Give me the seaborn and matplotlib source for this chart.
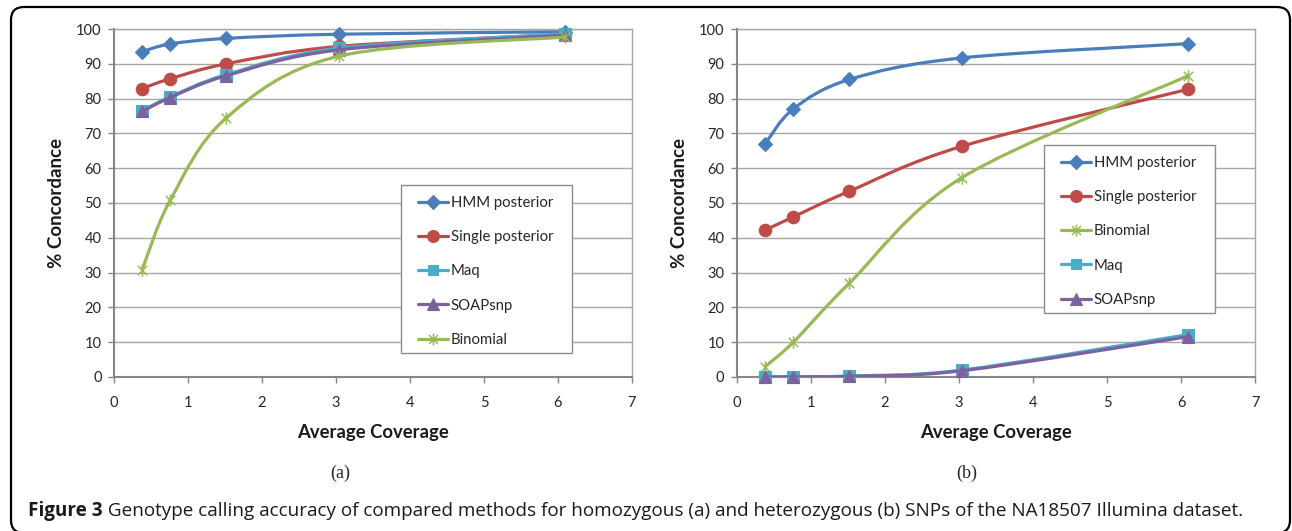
#!/usr/bin/env python3
"""Genotype calling accuracy (homozygous / heterozygous) as two smoothed line charts."""

import numpy as np
import pandas as pd
import matplotlib
matplotlib.use("Agg")
import matplotlib.pyplot as plt
import seaborn as sns
from matplotlib.path import Path
from matplotlib.patches import PathPatch, Rectangle, FancyBboxPatch
from matplotlib.lines import Line2D

# ---- data -----------------------------------------------------------------
coverage = [0.38, 0.76, 1.52, 3.04, 6.1]

# (a) homozygous SNPs
hom_hmm = [93.5, 95.7, 97.3, 98.5, 99.2]
hom_single = [82.9, 85.7, 90.0, 95.0, 98.5]
hom_maq = [76.5, 80.5, 86.9, 94.5, 98.6]
hom_soap = [76.3, 80.3, 86.6, 94.0, 98.2]
hom_binomial = [30.8, 50.8, 74.5, 92.2, 97.7]

# (b) heterozygous SNPs
het_hmm = [67.0, 77.0, 85.5, 91.7, 95.8]
het_single = [42.2, 46.0, 53.4, 66.3, 82.7]
het_binomial = [3.0, 10.0, 27.0, 57.3, 86.6]
het_maq = [0.1, 0.1, 0.3, 2.0, 12.2]
het_soap = [0.0, 0.0, 0.2, 1.8, 11.6]

order_a = ["HMM posterior", "Single posterior", "Maq", "SOAPsnp", "Binomial"]
order_b = ["HMM posterior", "Single posterior", "Binomial", "Maq", "SOAPsnp"]

x_ticks = list(range(0, 8))
y_ticks = list(range(0, 101, 10))

caption_bold = "Figure 3"
caption_rest = (" Genotype calling accuracy of compared methods for homozygous (a) and "
                "heterozygous (b) SNPs of the NA18507 Illumina dataset.")


def long_frame(series):
    rows = []
    for name, values in series.items():
        for x, y in zip(coverage, values):
            rows.append({"coverage": x, "concordance": y, "method": name})
    return pd.DataFrame(rows)


df_a = long_frame({"HMM posterior": hom_hmm, "Single posterior": hom_single,
                   "Maq": hom_maq, "SOAPsnp": hom_soap, "Binomial": hom_binomial})
df_b = long_frame({"HMM posterior": het_hmm, "Single posterior": het_single,
                   "Binomial": het_binomial, "Maq": het_maq, "SOAPsnp": het_soap})

# ---- styling ----------------------------------------------------------------
STAR = Path([(0, -1), (0, 1), (-0.75, -0.75), (0.75, 0.75), (-0.75, 0.75), (0.75, -0.75)],
            [Path.MOVETO, Path.LINETO, Path.MOVETO, Path.LINETO, Path.MOVETO, Path.LINETO])

style = {
    "HMM posterior": dict(color="#4a7ebb", marker="D", ms=7),
    "Single posterior": dict(color="#be4b48", marker="o", ms=9),
    "Maq": dict(color="#4bacc6", marker="s", ms=8),
    "SOAPsnp": dict(color="#7d60a0", marker="^", ms=9),
    "Binomial": dict(color="#98b954", marker=STAR, ms=9),
}

W_PX, H_PX = 1292, 531
sns.set_theme(style="white")
plt.rcParams["font.family"] = ["Lato", "DejaVu Sans"]

fig = plt.figure(figsize=(W_PX / 100, H_PX / 100), dpi=100)


def smooth_path(xs, ys):
    # Excel-style smoothed line: cubic Bezier segments through the points
    pts = np.column_stack([xs, ys]).astype(float)
    n = len(pts)
    verts = [pts[0]]
    codes = [Path.MOVETO]
    for i in range(n - 1):
        p_prev = pts[max(i - 1, 0)]
        p0, p1 = pts[i], pts[i + 1]
        p_next = pts[min(i + 2, n - 1)]
        verts += [p0 + (p1 - p_prev) / 6, p1 - (p_next - p0) / 6, p1]
        codes += [Path.CURVE4] * 3
    return Path(verts, codes)


def draw_panel(ax, df, order, legend_box, legend_anchor):
    for k, name in enumerate(order):
        sub = df[df["method"] == name]
        st = style[name]
        is_star = name == "Binomial"
        ax.add_patch(PathPatch(smooth_path(sub["coverage"], sub["concordance"]),
                               facecolor="none", edgecolor=st["color"], lw=2.3,
                               capstyle="round", joinstyle="round", zorder=3 + k))
        sns.lineplot(data=sub, x="coverage", y="concordance", ax=ax, color=st["color"],
                     marker=st["marker"], markersize=st["ms"], linestyle="",
                     markeredgecolor=st["color"], markeredgewidth=1.1 if is_star else 0.8,
                     markerfacecolor="none" if is_star else st["color"],
                     zorder=3.5 + k, clip_on=False)

    ax.set_xlim(0, 7)
    ax.set_ylim(0, 100)
    ax.set_xticks(x_ticks)
    ax.set_yticks(y_ticks)
    ax.yaxis.grid(True, color="#a6a6a6", lw=1.0)
    ax.xaxis.grid(False)
    ax.set_axisbelow(True)
    for side in ("left", "bottom"):
        ax.spines[side].set_color("#868686")
        ax.spines[side].set_linewidth(1.5)
    for side in ("top", "right"):
        ax.spines[side].set_color("#a6a6a6")
        ax.spines[side].set_linewidth(1.0)
    ax.tick_params(axis="both", which="major", direction="out", length=4, width=1.0,
                   color="#868686", labelsize=10.5, labelcolor="#262626")
    ax.tick_params(axis="x", pad=10, bottom=True)
    ax.tick_params(axis="y", pad=5, left=True)

    ax.set_xlabel("Average Coverage", fontsize=13.3, fontweight="bold", color="#1a1a1a")
    ax.set_ylabel("% Concordance", fontsize=13.5, fontweight="bold", color="#1a1a1a")
    ax.xaxis.set_label_coords(0.5, -0.135)
    ax.yaxis.set_label_coords(-0.094, 0.5)

    # legend frame drawn at its own place, entries laid out by the legend
    ax.add_patch(Rectangle(legend_box[:2], legend_box[2], legend_box[3],
                           transform=ax.transAxes, facecolor="white", edgecolor="#8c8c8c",
                           lw=1.0, zorder=20))
    handles = []
    for name in order:
        st = style[name]
        is_star = name == "Binomial"
        handles.append(Line2D([], [], color=st["color"], lw=2.3, marker=st["marker"],
                              markersize=st["ms"] * 0.95, markeredgecolor=st["color"],
                              markerfacecolor="none" if is_star else st["color"],
                              markeredgewidth=1.1 if is_star else 0.8))
    leg = ax.legend(handles, order, loc="upper left", bbox_to_anchor=legend_anchor,
                    frameon=False, borderpad=0, borderaxespad=0, handlelength=2.05,
                    handletextpad=0.15, labelspacing=1.36, fontsize=10.7)
    leg.set_zorder(21)


ax_a = fig.add_axes([114 / W_PX, (H_PX - 377) / H_PX, 518 / W_PX, 348 / H_PX])
ax_b = fig.add_axes([737 / W_PX, (H_PX - 377) / H_PX, 518 / W_PX, 348 / H_PX])

draw_panel(ax_a, df_a, order_a,
           ((401 - 114) / 518, (377 - 353) / 348, 171 / 518, 168 / 348),
           ((418 - 114) / 518, (377 - 196) / 348))
draw_panel(ax_b, df_b, order_b,
           ((1044 - 737) / 518, (377 - 313) / 348, 171 / 518, 168 / 348),
           ((1061 - 737) / 518, (377 - 156) / 348))

# sub-figure labels
serif = ["Liberation Serif", "DejaVu Serif"]
fig.text(340 / W_PX, 1 - 473 / H_PX, "(a)", ha="center", va="center", fontsize=13,
         family=serif)
fig.text(967 / W_PX, 1 - 473 / H_PX, "(b)", ha="center", va="center", fontsize=13,
         family=serif)

# rounded border round the whole figure
fig.patches.append(FancyBboxPatch((0.11, -0.02), 12.79, 5.26,
                                  boxstyle="round,pad=0,rounding_size=0.13",
                                  transform=fig.dpi_scale_trans, facecolor="none",
                                  edgecolor="black", lw=1.6, figure=fig))

# caption, sized to span the same width as the original
cap_font = ["Open Sans", "DejaVu Sans"]
cap_y = 1 - 511 / H_PX
t1 = fig.text(28 / W_PX, cap_y, caption_bold, fontweight="bold", va="center",
              family=cap_font, color="#1a1a1a")
t2 = fig.text(0, cap_y, caption_rest, va="center", family=cap_font, color="#1a1a1a")
fig.canvas.draw()
renderer = fig.canvas.get_renderer()


def place_caption(size):
    t1.set_fontsize(size)
    t2.set_fontsize(size)
    w1 = t1.get_window_extent(renderer).width
    t2.set_x((28 + w1) / W_PX)
    return t2.get_window_extent(renderer).x1


size = 11.0
end = place_caption(size)
size *= (1240 - 28) / (end - 28)
place_caption(size)

fig.savefig("out.png", dpi=100)
